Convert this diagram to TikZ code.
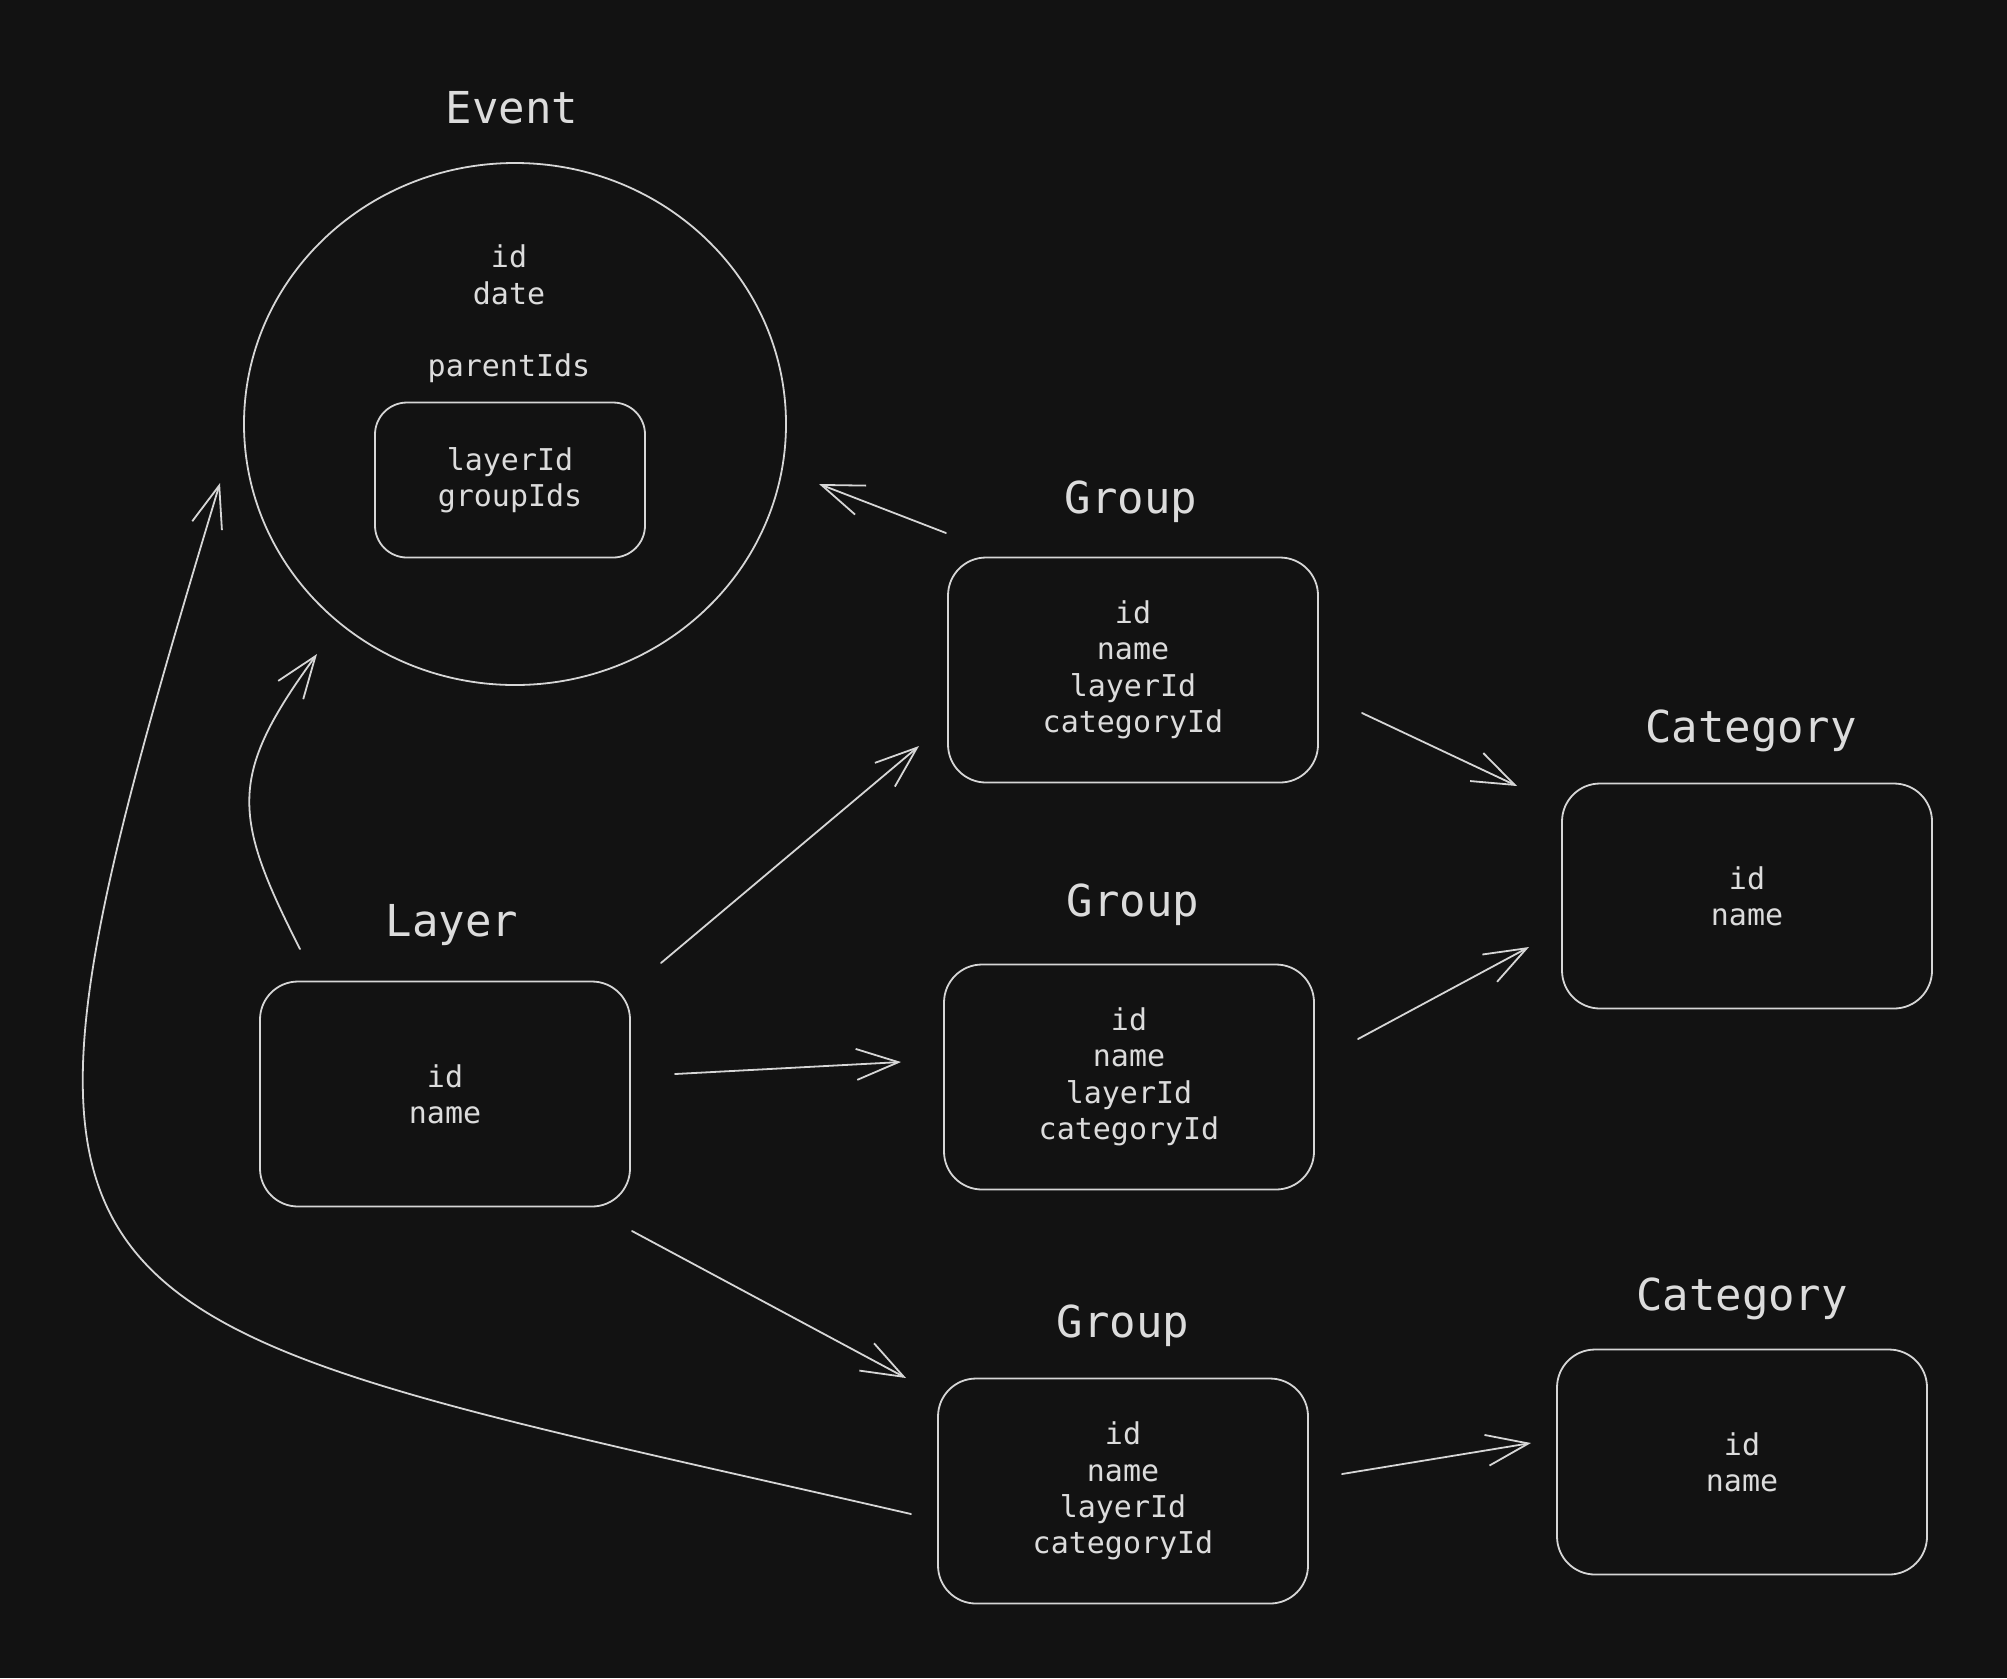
\documentclass[tikz,border=0pt]{standalone}
\usepackage{fontspec}
\usetikzlibrary{arrows.meta,shapes.geometric,calc}
\newfontfamily\codefont{DejaVu Sans Mono}
\definecolor{bgc}{HTML}{121212}
\definecolor{linec}{HTML}{D6D6D6}
\definecolor{textc}{HTML}{DCDCDC}
\tikzset{
  ent/.style={draw=linec, line width=0.9pt, rounded corners=19pt,
    minimum width=185pt, minimum height=112.5pt, inner sep=0pt, align=center,
    text=textc, font=\codefont\fontsize{15pt}{18.2pt}\selectfont},
  evshape/.style={draw=linec, line width=0.9pt, ellipse, minimum width=271pt,
    minimum height=261pt, inner sep=0pt},
  txt/.style={align=center, text=textc, inner sep=0pt,
    font=\codefont\fontsize{15pt}{18.2pt}\selectfont},
  ttl/.style={anchor=base, text=textc, inner sep=0pt,
    font=\codefont\fontsize{22pt}{26pt}\selectfont},
  arr/.style={draw=linec, line width=0.9pt, line cap=round, line join=round,
    -{Straight Barb[length=21pt,width=15.5pt,line width=0.9pt]}}
}
\begin{document}
\begin{tikzpicture}[x=0.5pt,y=-0.5pt]
\useasboundingbox (0,0) rectangle (2007,1678);
\fill[bgc] (0,0) rectangle (2007,1678);

% Event
\node[evshape] (event) at (515,424) {};
\node[ttl] (tevent) at (512,123) {Event};
\node[txt] (evtext) at (509,314) {id\\date\\[18pt]parentIds};
\node[ent, minimum width=135pt, minimum height=77.5pt, rounded corners=16pt] (evinner) at (510,480) {layerId\\groupIds};

% Groups
\node[ttl] (tg1) at (1131,513) {Group};
\node[ent] (g1) at (1133,670) {id\\name\\layerId\\categoryId};
\node[ttl] (tg2) at (1133,916) {Group};
\node[ent] (g2) at (1129,1077) {id\\name\\layerId\\categoryId};
\node[ttl] (tg3) at (1123,1337) {Group};
\node[ent] (g3) at (1123,1491) {id\\name\\layerId\\categoryId};

% Categories
\node[ttl] (tc1) at (1751,742) {Category};
\node[ent] (cat1) at (1747,896) {id\\name};
\node[ttl] (tc2) at (1742,1310) {Category};
\node[ent] (cat2) at (1742,1462) {id\\name};

% Layer
\node[ttl] (tlayer) at (452,936) {Layer};
\node[ent] (layer) at (445,1094) {id\\name};

% Connectors
\draw[arr] ($(g1.center)+(-187,-137)$) -- ($(event.center)+(304,60)$);
\draw[arr] ($(layer.center)+(-145,-145)$) .. controls +(-68,-134) and +(-89,122) .. ($(event.center)+(-198,230)$);
\draw[arr] ($(layer.center)+(216,-131)$) -- ($(g1.center)+(-214,76)$);
\draw[arr] ($(layer.center)+(230,-20)$) -- ($(g2.center)+(-228,-15)$);
\draw[arr] ($(layer.center)+(187,137)$) -- ($(g3.center)+(-217,-113)$);
\draw[arr] ($(g1.center)+(229,43)$) -- ($(cat1.center)+(-230,-110)$);
\draw[arr] ($(g2.center)+(229,-38)$) -- ($(cat1.center)+(-218,51)$);
\draw[arr] ($(g3.center)+(219,-17)$) -- ($(cat2.center)+(-211,-19)$);
\draw[arr] ($(g3.center)+(-212,23)$) .. controls +(-900,-207) and +(-261,864) .. ($(event.center)+(-295,59)$);
\end{tikzpicture}
\end{document}
